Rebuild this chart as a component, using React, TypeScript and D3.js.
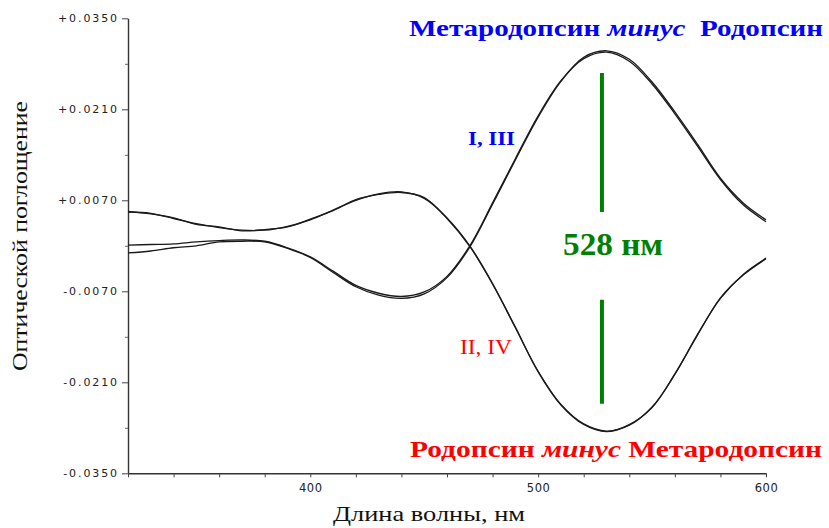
import React, { useRef, useEffect } from "react";
import * as d3 from "d3";

// wavelength grid (nm) and difference spectra
const wavelengths = [
  320, 330, 340, 350, 360, 370, 380, 390, 400, 410, 420, 430, 440, 450, 460,
  470, 480, 490, 500, 510, 520, 530, 540, 550, 560, 570, 580, 590, 600,
];

// Metarhodopsin minus Rhodopsin (I, III)
const curveI = [
  0.0001, 0.0002, 0.0003, 0.0006, 0.0008, 0.0009, 0.0007, -0.0003, -0.0017,
  -0.0039, -0.0061, -0.0073, -0.0078, -0.0071, -0.0047, 0.0, 0.0066, 0.0134,
  0.02, 0.0254, 0.0288, 0.0298, 0.0284, 0.0249, 0.0203, 0.0153, 0.0102,
  0.0063, 0.0037,
];
const curveIII = [
  -0.0011, -0.0008, -0.0003, 0.0, 0.0006, 0.0007, 0.0006, -0.0004, -0.0018,
  -0.0041, -0.0063, -0.0076, -0.0081, -0.0074, -0.0049, -0.0002, 0.0064,
  0.0132, 0.0198, 0.0253, 0.029, 0.03, 0.0287, 0.0252, 0.0206, 0.0156, 0.0104,
  0.0066, 0.004,
];

// Rhodopsin minus Metarhodopsin (II, IV)
const curveII = [
  0.0052, 0.005, 0.0042, 0.0034, 0.0028, 0.0024, 0.0024, 0.003, 0.004, 0.0055,
  0.007, 0.008, 0.0083, 0.0073, 0.0043, 0.0, -0.0058, -0.0126, -0.0193,
  -0.0244, -0.0274, -0.0285, -0.0276, -0.0248, -0.0198, -0.0136, -0.0081,
  -0.0044, -0.0019,
];
const curveIV = [
  0.0053, 0.0049, 0.0043, 0.0033, 0.0029, 0.0023, 0.0025, 0.0029, 0.0041,
  0.0054, 0.0071, 0.0079, 0.0082, 0.0074, 0.0042, -0.0001, -0.0059, -0.0125,
  -0.0194, -0.0245, -0.0275, -0.0286, -0.0275, -0.0249, -0.0197, -0.0137,
  -0.008, -0.0045, -0.002,
];

const yTicks = [0.035, 0.021, 0.007, -0.007, -0.021, -0.035];
const yTickLabels = ["+0.0350", "+0.0210", "+0.0070", "-0.0070", "-0.0210", "-0.0350"];
const yMinorTicks = [0.028, 0.014, 0, -0.014, -0.028];
const xTicks = [320, 340, 360, 380, 400, 420, 440, 460, 480, 500, 520, 540, 560, 580, 600];
const xTickLabels = ["400", "500", "600"];

// 528 nm marker, segments in absorbance units
const markerNm = 528;
const markerSegments = [
  [0.0266, 0.0052],
  [-0.0083, -0.0243],
];

const App: React.FC = () => {
  const ref = useRef<SVGSVGElement | null>(null);

  useEffect(() => {
    const svg = d3.select(ref.current);
    svg.selectAll("*").remove();

    const x = d3.scaleLinear().domain([320, 600]).range([128, 766]);
    const y = d3.scaleLinear().domain([0.035, -0.035]).range([18.3, 473.3]);

    svg.append("rect").attr("width", 829).attr("height", 528).attr("fill", "#fff");

    // y axis
    const gy = svg
      .append("g")
      .attr("transform", "translate(128,0)")
      .call(
        d3
          .axisLeft(y)
          .tickValues(yTicks)
          .tickFormat((_, i) => yTickLabels[i])
          .tickSize(6)
          .tickSizeOuter(0)
          .tickPadding(3)
      );
    gy.select(".domain").attr("stroke", "#333").attr("stroke-width", 1.4);
    gy.selectAll(".tick line").attr("stroke", "#444");
    gy.selectAll(".tick text")
      .attr("fill", "#222")
      .attr("font-family", "DejaVu Sans, sans-serif")
      .attr("font-size", 11)
      .attr("letter-spacing", "1.9px");

    const gyMinor = svg
      .append("g")
      .attr("transform", "translate(128,0)")
      .call(d3.axisLeft(y).tickValues(yMinorTicks).tickFormat(() => "").tickSize(3).tickSizeOuter(0));
    gyMinor.select(".domain").remove();
    gyMinor.selectAll(".tick line").attr("stroke", "#666");

    // x axis
    const gx = svg
      .append("g")
      .attr("transform", "translate(0,473.3)")
      .call(
        d3
          .axisBottom(x)
          .tickValues(xTicks)
          .tickFormat((d) => (xTickLabels.includes(String(d)) ? String(d) : ""))
          .tickSize(4)
          .tickSizeOuter(0)
          .tickPadding(7)
      );
    gx.select(".domain").attr("stroke", "#333").attr("stroke-width", 1.4);
    gx.selectAll(".tick line").attr("stroke", "#444");
    gx.selectAll(".tick text")
      .attr("fill", "#222")
      .attr("font-family", "DejaVu Sans, sans-serif")
      .attr("font-size", 11.5)
      .attr("letter-spacing", "0.6px");

    // spectra
    const line = d3
      .line<number>()
      .x((_, i) => x(wavelengths[i]))
      .y((d) => y(d))
      .curve(d3.curveCatmullRom.alpha(0.5));

    [curveI, curveIII, curveII, curveIV].forEach((c) => {
      svg
        .append("path")
        .datum(c)
        .attr("d", line)
        .attr("fill", "none")
        .attr("stroke", "#1a1a1a")
        .attr("stroke-width", 1.3);
    });

    // 528 nm marker
    svg
      .selectAll(".marker")
      .data(markerSegments)
      .enter()
      .append("line")
      .attr("class", "marker")
      .attr("x1", x(markerNm))
      .attr("x2", x(markerNm))
      .attr("y1", (d) => y(d[0]))
      .attr("y2", (d) => y(d[1]))
      .attr("stroke", "#008000")
      .attr("stroke-width", 4);

    const serif = "Liberation Serif, Times New Roman, serif";

    svg
      .append("text")
      .attr("x", 563)
      .attr("y", 255)
      .attr("font-family", serif)
      .attr("font-weight", "bold")
      .attr("font-size", 32)
      .attr("fill", "#008000")
      .attr("textLength", 100)
      .attr("lengthAdjust", "spacingAndGlyphs")
      .text("528 нм");

    // titles
    const blue = svg
      .append("text")
      .attr("x", 409)
      .attr("y", 36)
      .attr("font-family", serif)
      .attr("font-weight", "bold")
      .attr("font-size", 24)
      .attr("fill", "#0000ff")
      .attr("textLength", 414)
      .attr("lengthAdjust", "spacingAndGlyphs")
      .style("white-space", "pre");
    blue.append("tspan").text("Метародопсин ");
    blue.append("tspan").attr("font-style", "italic").text("минус");
    blue.append("tspan").text("  Родопсин");

    const red = svg
      .append("text")
      .attr("x", 410)
      .attr("y", 457)
      .attr("font-family", serif)
      .attr("font-weight", "bold")
      .attr("font-size", 24)
      .attr("fill", "#ff0000")
      .attr("textLength", 412)
      .attr("lengthAdjust", "spacingAndGlyphs")
      .style("white-space", "pre");
    red.append("tspan").text("Родопсин ");
    red.append("tspan").attr("font-style", "italic").text("минус");
    red.append("tspan").text(" Метародопсин");

    svg
      .append("text")
      .attr("x", 468)
      .attr("y", 145)
      .attr("font-family", serif)
      .attr("font-weight", "bold")
      .attr("font-size", 18)
      .attr("fill", "#0000ff")
      .attr("textLength", 47)
      .attr("lengthAdjust", "spacingAndGlyphs")
      .text("I, III");

    svg
      .append("text")
      .attr("x", 460)
      .attr("y", 354)
      .attr("font-family", serif)
      .attr("font-size", 20)
      .attr("fill", "#ff0000")
      .attr("textLength", 52)
      .attr("lengthAdjust", "spacingAndGlyphs")
      .text("II, IV");

    // axis titles
    svg
      .append("text")
      .attr("x", 333)
      .attr("y", 521)
      .attr("font-family", serif)
      .attr("font-size", 21)
      .attr("fill", "#111")
      .attr("textLength", 192)
      .attr("lengthAdjust", "spacingAndGlyphs")
      .text("Длина волны, нм");

    svg
      .append("text")
      .attr("transform", "translate(27,236) rotate(-90)")
      .attr("text-anchor", "middle")
      .attr("font-family", serif)
      .attr("font-size", 21)
      .attr("fill", "#111")
      .attr("textLength", 270)
      .attr("lengthAdjust", "spacingAndGlyphs")
      .text("Оптической поглощение");
  }, []);

  return (
    <svg
      ref={ref}
      width={829}
      height={528}
      style={{ position: "absolute", left: 0, top: 0 }}
    />
  );
};

export default App;
